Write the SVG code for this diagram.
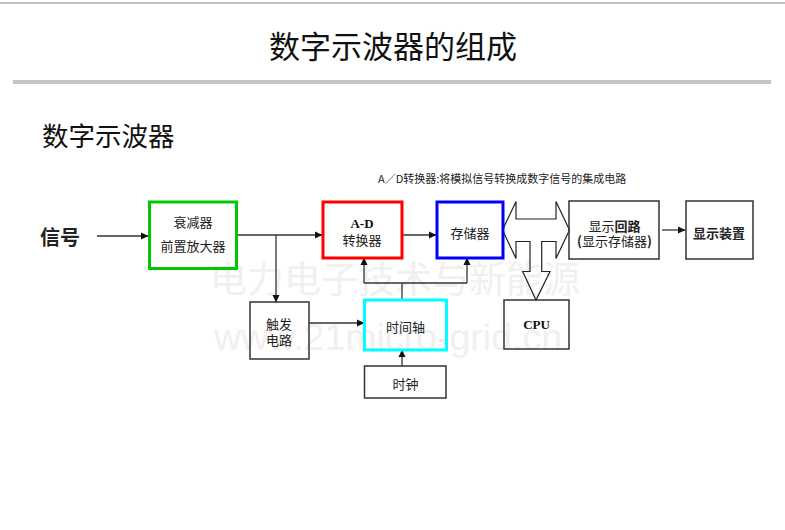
<svg xmlns="http://www.w3.org/2000/svg" width="785" height="530" viewBox="0 0 785 530">
<defs>
<style>
.cjk{font-family:"Noto Sans CJK SC","Liberation Sans",sans-serif;fill:#222}
.lbl{font-size:13px;text-anchor:middle}
.ser{font-family:"Liberation Serif","Noto Sans CJK SC",serif;font-weight:bold;fill:#111}
.box{fill:none;stroke:#333;stroke-width:1.5}
.con{fill:none;stroke:#333;stroke-width:1.3}
</style>
<marker id="ah" markerWidth="8" markerHeight="8" refX="7" refY="4" orient="auto" markerUnits="userSpaceOnUse">
<path d="M0,0.5 L7.5,4 L0,7.5 Z" fill="#111"/>
</marker>
</defs>
<rect x="0" y="0" width="785" height="530" fill="#fff"/>
<line x1="0" y1="3" x2="785" y2="3" stroke="#808080" stroke-width="1"/>
<text x="393" y="58" font-family="Noto Sans CJK SC, sans-serif" font-size="31" text-anchor="middle" fill="#111">数字示波器的组成</text>
<rect x="13" y="80" width="758" height="4" fill="#c4c4c4"/>
<text x="42" y="146" font-family="Noto Sans CJK SC, sans-serif" font-size="26.5" fill="#111">数字示波器</text>

<!-- watermark -->
<text x="210" y="293" font-family="Noto Sans CJK SC, sans-serif" font-size="37" fill="#f0f0f0">电力电子技术与新能源</text>
<text x="214" y="350" font-family="Liberation Sans, sans-serif" font-size="37.5" fill="#f0f0f0">www.21micro-grid.cn</text>

<text x="378" y="183" class="cjk" font-size="11">A／D转换器:将模拟信号转换成数字信号的集成电路</text>

<g id="signal"><text x="40" y="245" class="cjk" font-size="20" font-weight="bold" fill="#111">信号</text></g>

<g id="connectors">
<line class="con" x1="97" y1="236" x2="148" y2="236" marker-end="url(#ah)"/>
<line class="con" x1="237" y1="235" x2="322" y2="235" marker-end="url(#ah)"/>
<line class="con" x1="276" y1="235" x2="276" y2="302" marker-end="url(#ah)"/>
<line class="con" x1="402" y1="235" x2="436" y2="235" marker-end="url(#ah)"/>
<line class="con" x1="309" y1="323" x2="364" y2="323" marker-end="url(#ah)"/>
<line class="con" x1="402" y1="366" x2="402" y2="350" marker-end="url(#ah)"/>
<polyline class="con" points="402,300 402,283"/>
<polyline class="con" points="364,283 467,283"/>
<line class="con" x1="364" y1="283" x2="364" y2="258" marker-end="url(#ah)"/>
<line class="con" x1="467" y1="283" x2="467" y2="258" marker-end="url(#ah)"/>
<line class="con" x1="662" y1="230" x2="685" y2="230" marker-end="url(#ah)"/>
<path id="bus" d="M502.5,230 L516,201.5 L516,219 L556,219 L556,201.5 L569.5,230 L556,258.5 L556,241.5 L541.7,241.5 L541.7,271.5 L550,271.5 L536,300 L522.7,271.5 L530,271.5 L530,241.5 L516,241.5 L516,258.5 Z" fill="none" stroke="#222" stroke-width="1.2"/>
</g>

<g id="attenuator">
<rect x="149.5" y="202" width="87" height="66.5" fill="none" stroke="#00c800" stroke-width="3"/>
<text x="193" y="227" class="cjk lbl">衰减器</text>
<text x="193" y="251" class="cjk lbl">前置放大器</text>
</g>

<g id="adc">
<rect x="323" y="202" width="79" height="56" fill="none" stroke="#ff0000" stroke-width="3"/>
<text x="362" y="227.5" class="ser" font-size="13" text-anchor="middle">A-D</text>
<text x="362" y="245" class="cjk lbl">转换器</text>
</g>

<g id="memory">
<rect x="437" y="202" width="66" height="56" fill="none" stroke="#0000ff" stroke-width="3"/>
<text x="470" y="237.5" class="cjk lbl">存储器</text>
</g>

<g id="display-circuit">
<rect class="box" x="569" y="201" width="90" height="58"/>
<text x="614.5" y="231" class="cjk lbl">显示<tspan font-weight="bold">回路</tspan></text>
<text x="614.5" y="246" class="cjk lbl"><tspan font-weight="bold">(</tspan>显示存储器<tspan font-weight="bold">)</tspan></text>
</g>

<g id="display-device">
<rect class="box" x="686" y="201" width="67" height="58"/>
<text x="719" y="237.5" class="cjk lbl" font-weight="bold">显示装置</text>
</g>

<g id="trigger">
<rect class="box" x="250" y="302" width="59" height="57"/>
<text x="279" y="329" class="cjk lbl">触发</text>
<text x="279" y="345" class="cjk lbl">电路</text>
</g>

<g id="timebase">
<rect x="364.5" y="300" width="82" height="50" fill="none" stroke="#00ffff" stroke-width="3"/>
<text x="405.5" y="331.5" class="cjk lbl">时间轴</text>
</g>

<g id="clock">
<rect class="box" x="364.5" y="366" width="81.5" height="32"/>
<text x="405.5" y="388.5" class="cjk lbl">时钟</text>
</g>

<g id="cpu">
<rect class="box" x="504" y="300" width="65" height="49"/>
<text x="536.5" y="329" class="ser" font-size="13" text-anchor="middle">CPU</text>
</g>
</svg>
